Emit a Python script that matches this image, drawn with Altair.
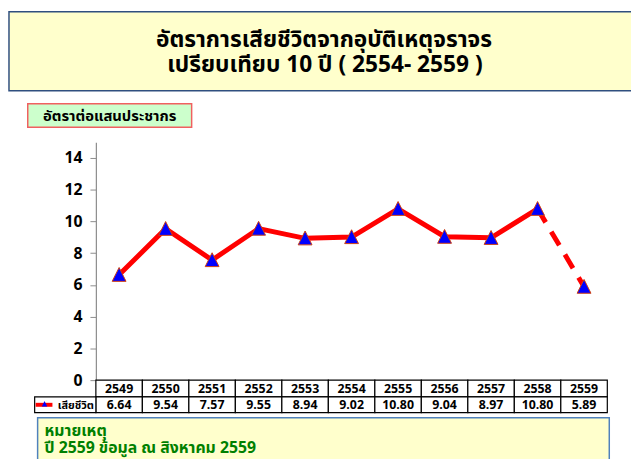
import altair as alt
import pandas as pd

years = ["2549", "2550", "2551", "2552", "2553", "2554", "2555", "2556", "2557", "2558", "2559"]
values = [6.64, 9.54, 7.57, 9.55, 8.94, 9.02, 10.80, 9.04, 8.97, 10.80, 5.89]
value_labels = ["6.64", "9.54", "7.57", "9.55", "8.94", "9.02", "10.80", "9.04", "8.97", "10.80", "5.89"]
y_ticks = [0, 2, 4, 6, 8, 10, 12, 14]

title_lines = ["อัตราการเสียชีวิตจากอุบัติเหตุจราจร", "เปรียบเทียบ 10 ปี ( 2554- 2559 )"]
unit_label = "อัตราต่อแสนประชากร"
series_name = "เสียชีวิต"
note_lines = ["หมายเหตุ", "ปี 2559 ข้อมูล ณ สิงหาคม 2559"]

FONT = "Tahoma, 'Noto Sans Thai', 'DejaVu Sans', sans-serif"
TRI = "M0,-1.05L1,0.95L-1,0.95Z"

df = pd.DataFrame({"year": years, "value": values, "label": value_labels})
solid_df = df.iloc[:10]
dash_df = df.iloc[9:]
one = pd.DataFrame({"k": [0]})

xscale = alt.Scale(type="band", domain=years, paddingInner=0, paddingOuter=0)
x_c = alt.X("year:N", scale=xscale, axis=None, bandPosition=0.5)
x_b = alt.X("year:N", scale=xscale, axis=None)
y_axis = alt.Axis(values=y_ticks, title=None, grid=False, labelFontSize=16,
                  labelFontWeight="bold", labelColor="black", labelFont=FONT,
                  labelOverlap=False, labelFlush=False, tickCount=8,
                  domainColor="#8c8c8c", tickColor="#8c8c8c", tickSize=6,
                  labelPadding=8, domainWidth=1.2)
y_enc = alt.Y("value:Q", scale=alt.Scale(domain=[0, 15], nice=False), axis=y_axis)

# title box
title_box = alt.Chart(one).mark_rect(fill="#FFFFCC", stroke="#2F4F7F", strokeWidth=1.5).encode(
    x=alt.value(-88), x2=alt.value(600), y=alt.value(-132), y2=alt.value(-52))
t1 = alt.Chart(one).mark_text(text=title_lines[0], font=FONT, fontSize=23, fontWeight="bold",
                              align="center", baseline="alphabetic", color="black").encode(
    x=alt.value(231), y=alt.value(-96))
t2 = alt.Chart(one).mark_text(text=title_lines[1], font=FONT, fontSize=23, fontWeight="bold",
                              align="center", baseline="alphabetic", color="black").encode(
    x=alt.value(232), y=alt.value(-71))

# unit label box
lab_box = alt.Chart(one).mark_rect(fill="#CCFFCC", stroke="#F06060", strokeWidth=1.5).encode(
    x=alt.value(-69), x2=alt.value(97), y=alt.value(-39), y2=alt.value(-15))
lab_txt = alt.Chart(one).mark_text(text=unit_label, font=FONT, fontSize=15, fontWeight="bold",
                                   align="center", baseline="alphabetic", color="black").encode(
    x=alt.value(14), y=alt.value(-21))

# lines and points
line_solid = alt.Chart(solid_df).mark_line(color="#FF0000", strokeWidth=5).encode(x=x_c, y=y_enc)
line_dash = alt.Chart(dash_df).mark_line(color="#FF0000", strokeWidth=5, strokeDash=[16, 11]).encode(
    x=x_c, y=y_enc)
pts = alt.Chart(df).mark_point(shape=TRI, filled=True, fill="#0000FF", stroke="#D04010",
                               strokeWidth=1, size=196, opacity=1).encode(x=x_c, y=y_enc)

# data table
row1 = alt.Chart(df).mark_rect(fill="white", stroke="black", strokeWidth=1.2).encode(
    x=x_b, y=alt.value(241), y2=alt.value(258))
row2 = alt.Chart(df).mark_rect(fill="white", stroke="black", strokeWidth=1.2).encode(
    x=x_b, y=alt.value(258), y2=alt.value(274))
yr_txt = alt.Chart(df).mark_text(font=FONT, fontSize=12.5, fontWeight="bold", align="center",
                                 baseline="alphabetic", color="black").encode(
    x=x_c, y=alt.value(254), text="year:N")
val_txt = alt.Chart(df).mark_text(font=FONT, fontSize=12.5, fontWeight="bold", align="center",
                                  baseline="alphabetic", color="black").encode(
    x=x_c, y=alt.value(270), text="label:N")

leg_cell = alt.Chart(one).mark_rect(fill="white", stroke="black", strokeWidth=1.2).encode(
    x=alt.value(-62), x2=alt.value(0), y=alt.value(258), y2=alt.value(274))
leg_line = alt.Chart(one).mark_rule(color="#FF0000", strokeWidth=4).encode(
    x=alt.value(-61), x2=alt.value(-44), y=alt.value(266))
leg_pt = alt.Chart(one).mark_point(shape=TRI, filled=True, fill="#0000FF", size=30,
                                   opacity=1).encode(x=alt.value(-52), y=alt.value(265))
leg_txt = alt.Chart(one).mark_text(text=series_name, font=FONT, fontSize=11, fontWeight="bold",
                                   align="right", baseline="alphabetic", color="black").encode(
    x=alt.value(-2), y=alt.value(270))

# note box
note_box = alt.Chart(one).mark_rect(fill="#FFFFCC", stroke="#4F81BD", strokeWidth=1.5).encode(
    x=alt.value(-59), x2=alt.value(520), y=alt.value(279), y2=alt.value(340))
n1 = alt.Chart(one).mark_text(text=note_lines[0], font=FONT, fontSize=16, fontWeight="bold",
                              align="left", baseline="alphabetic", color="#008000").encode(
    x=alt.value(-52), y=alt.value(298))
n2 = alt.Chart(one).mark_text(text=note_lines[1], font=FONT, fontSize=16, fontWeight="bold",
                              align="left", baseline="alphabetic", color="#008000").encode(
    x=alt.value(-52), y=alt.value(315))

chart = alt.layer(
    title_box, t1, t2, lab_box, lab_txt,
    row1, row2, yr_txt, val_txt, leg_cell, leg_line, leg_pt, leg_txt,
    note_box, n1, n2,
    line_solid, line_dash, pts,
).properties(
    width=518, height=241,
    padding={"left": 89, "top": 133, "right": 24, "bottom": 77},
    autosize=alt.AutoSizeParams(type="none"),
    background="white",
).configure_view(stroke=None)

chart.save("out.html", embed_options={"renderer": "svg", "actions": False})
